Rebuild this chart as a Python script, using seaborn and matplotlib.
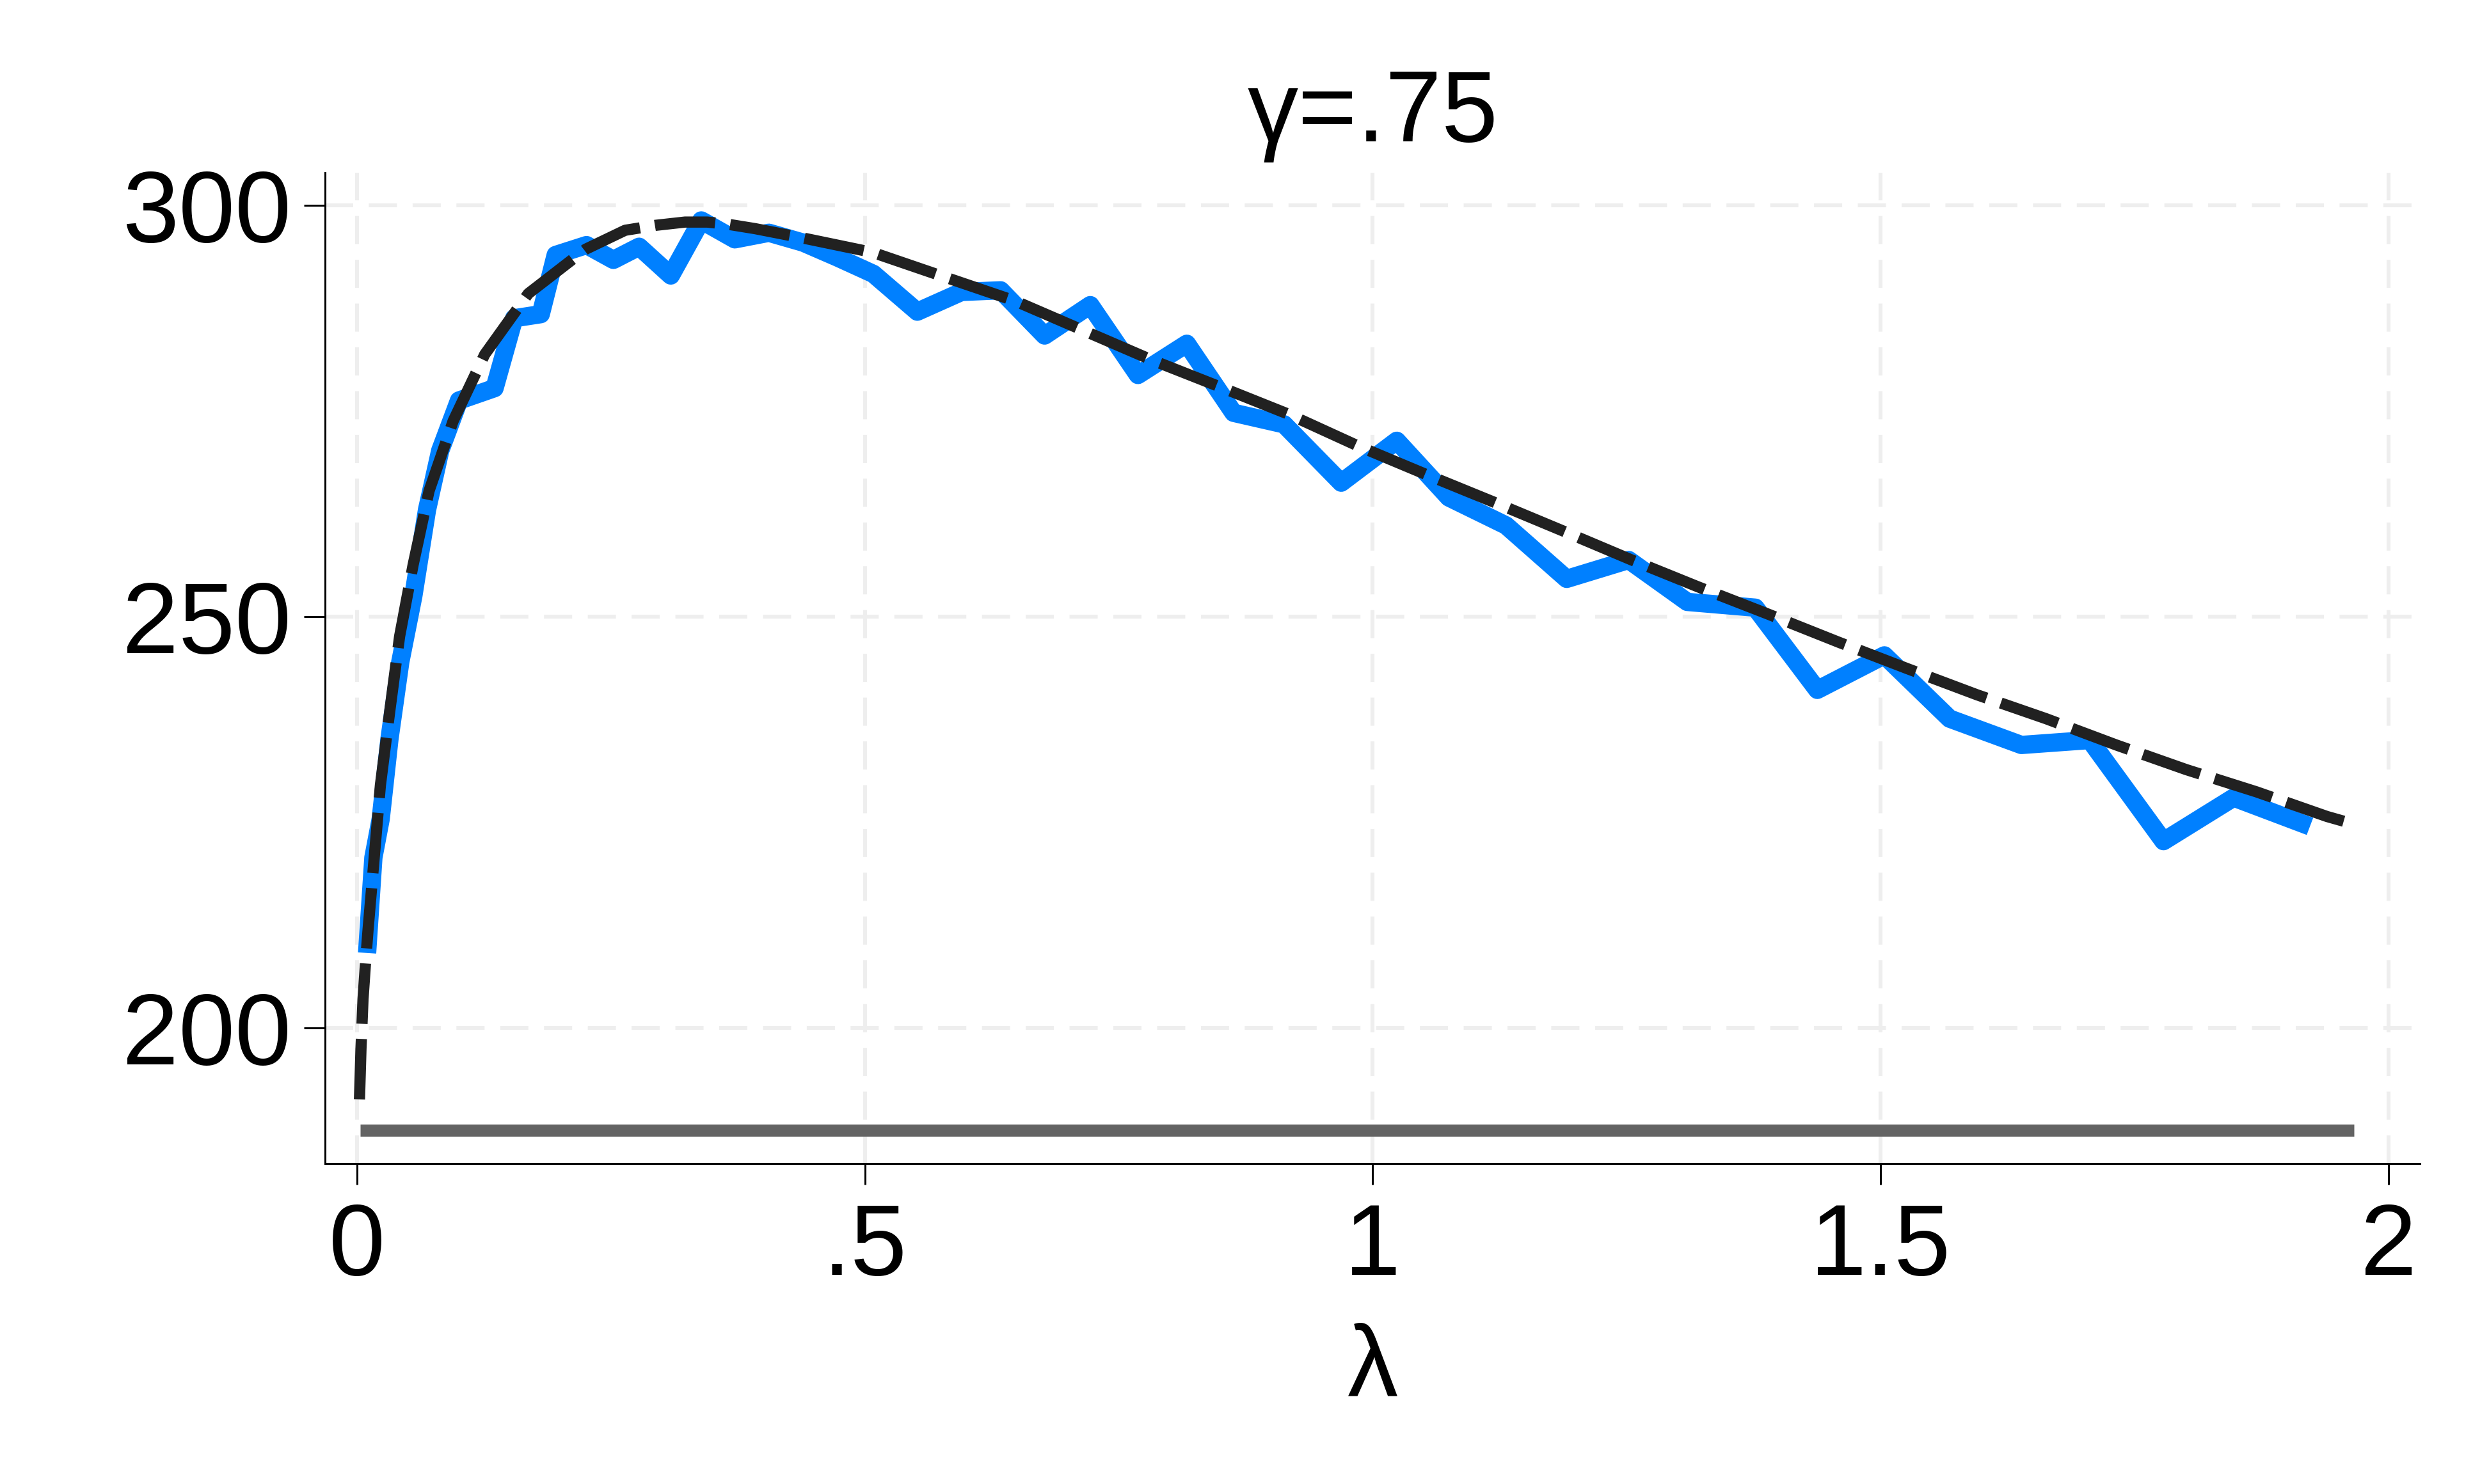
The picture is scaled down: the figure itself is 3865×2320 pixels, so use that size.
import matplotlib
matplotlib.use("Agg")
import matplotlib.pyplot as plt
import seaborn as sns

# blue series: simulated value at each lambda
lam = [0.010, 0.0162, 0.0234, 0.032, 0.0427, 0.0555, 0.069, 0.082, 0.1005, 0.1355,
       0.1548, 0.181, 0.1957, 0.226, 0.2525, 0.2778, 0.309, 0.339, 0.372, 0.4056,
       0.4393, 0.4729, 0.5084, 0.5517, 0.5952, 0.6337, 0.677, 0.722, 0.7689, 0.817,
       0.863, 0.9127, 0.969, 1.0237, 1.075, 1.1313, 1.191, 1.252, 1.3097, 1.3767,
       1.4377, 1.5037, 1.568, 1.6386, 1.706, 1.7785, 1.8476, 1.9227]
sim = [209.1, 220.7, 225.4, 235.1, 244.5, 252.5, 263.0, 270.2, 276.3, 277.8,
       286.3, 286.8, 294.0, 295.2, 293.4, 295.0, 291.5, 298.2, 295.9, 296.7,
       295.5, 293.7, 291.7, 287.1, 289.5, 289.7, 284.2, 287.9, 279.4, 283.2,
       274.8, 273.4, 266.3, 271.4, 264.5, 261.1, 254.6, 256.9, 251.8, 251.1,
       241.1, 245.3, 237.6, 234.4, 235.0, 222.7, 228.0, 224.5]

# dashed black: smooth fitted curve
fit_lam = [0.0025, 0.004, 0.006, 0.0085, 0.011, 0.0168, 0.0231, 0.0323, 0.042, 0.0553,
           0.071, 0.0947, 0.1258, 0.1687, 0.2252, 0.264, 0.2938, 0.323, 0.345, 0.367,
           0.392, 0.4377, 0.508, 0.579, 0.648, 0.7155, 0.783, 0.861, 0.9177, 0.985,
           1.0526, 1.12, 1.186, 1.255, 1.321, 1.3896, 1.4587, 1.526, 1.595, 1.6628,
           1.732, 1.801, 1.870, 1.9395, 1.968]
fit = [191.3, 197.5, 203.5, 208.0, 212.0, 220.4, 229.5, 238.5, 247.6, 256.3,
       265.3, 273.8, 281.9, 289.3, 294.7, 297.0, 297.6, 298.0, 298.0, 297.7,
       297.2, 296.1, 294.3, 291.3, 288.4, 284.8, 281.2, 277.4, 274.6, 270.8,
       267.3, 263.9, 260.5, 256.9, 253.6, 250.3, 246.9, 243.7, 240.5, 237.6,
       234.4, 231.4, 228.7, 225.7, 224.7]

# grey baseline
base_lam = [0.003, 1.966]
base = [187.5, 187.5]

xticks = [0, 0.5, 1, 1.5, 2]
xlabels = ["0", ".5", "1", "1.5", "2"]
yticks = [200, 250, 300]
ylabels = ["200", "250", "300"]

sns.set_style("ticks")
plt.rcParams["font.family"] = ["Liberation Sans", "DejaVu Sans"]
plt.rcParams["text.color"] = "black"
plt.rcParams["axes.labelcolor"] = "black"

fig = plt.figure(figsize=(19.33, 11.6), dpi=200)
ax = fig.add_axes([0.1314, 0.216, 0.8469, 0.6676])

ax.set_axisbelow(True)
ax.grid(True, color="#eeeeee", linewidth=2.2, linestyle=(0, (7.2, 4)))

sns.lineplot(x=base_lam, y=base, ax=ax, color="#636363", lw=6.8,
             estimator=None, sort=False, solid_capstyle="butt")
sns.lineplot(x=lam, y=sim, ax=ax, color="#0080ff", lw=10.3,
             estimator=None, sort=False, solid_capstyle="butt",
             solid_joinstyle="round")
sns.lineplot(x=fit_lam, y=fit, ax=ax, color="#212121", lw=6.3,
             estimator=None, sort=False)
ax.lines[-1].set_dashes((5.4, 1.35))

ax.set_xlim(-0.0314, 2.031)
ax.set_ylim(183.5, 304.0)
ax.set_xticks(xticks, xlabels)
ax.set_yticks(yticks, ylabels)
ax.tick_params(labelsize=57, length=12, width=1.1, color="black",
               labelcolor="black", direction="out", bottom=True, left=True)
ax.tick_params(axis="x", pad=9.5)
ax.tick_params(axis="y", pad=7)

sns.despine(ax=ax)
for s in ["left", "bottom"]:
    ax.spines[s].set_linewidth(1.1)
    ax.spines[s].set_color("black")

ax.set_xlabel("λ", fontsize=57, labelpad=15, color="black")
ax.set_ylabel("")
ax.set_title("γ=.75", fontsize=57, pad=17.6, color="black")

fig.savefig("out.png", dpi=200)
plt.close()
